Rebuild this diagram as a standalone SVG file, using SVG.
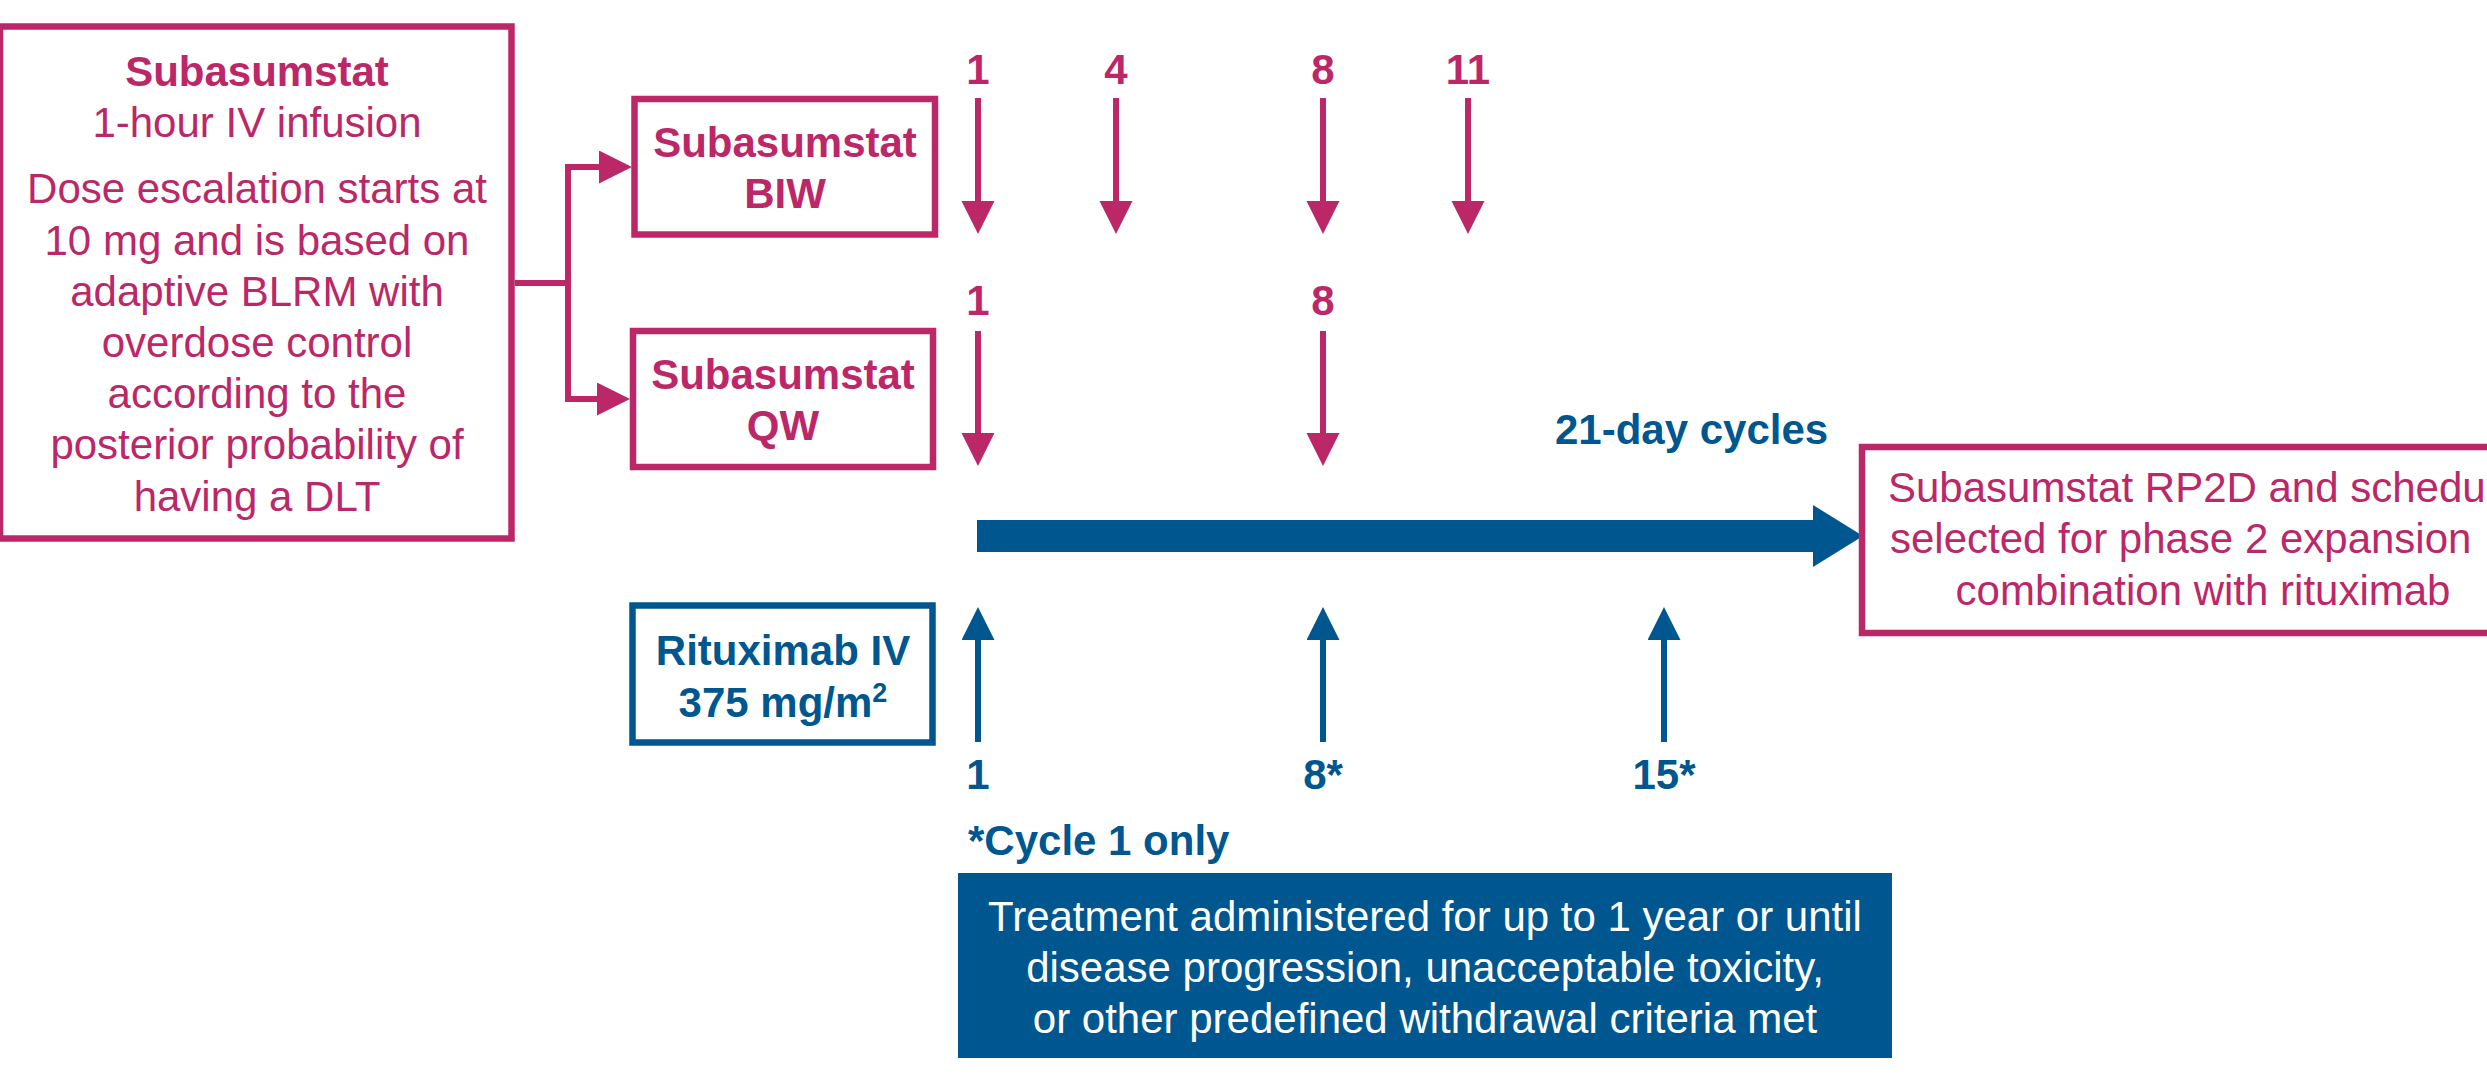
<svg xmlns="http://www.w3.org/2000/svg" width="2487" height="1091" viewBox="0 0 2487 1091">
<style>
text{font-family:"Liberation Sans",Arial,Helvetica,sans-serif;font-size:42px}
.b{font-weight:bold}
.pk{fill:#BC2768}
.bl{fill:#00578F}
.wt{fill:#FFFFFF}
.m{text-anchor:middle}
.boxp{fill:#FFFFFF;stroke:#BC2768;stroke-width:6.5}
.boxb{fill:#FFFFFF;stroke:#00578F;stroke-width:6.5}
.lp{fill:none;stroke:#BC2768;stroke-width:6}
.lb{fill:none;stroke:#00578F;stroke-width:6}
</style>
<defs>
<marker id="ahp" markerUnits="userSpaceOnUse" markerWidth="34" markerHeight="34" refX="1" refY="16.5" orient="auto" viewBox="0 0 34 34">
<path d="M0,0 L33,16.5 L0,33 Z" fill="#BC2768"/>
</marker>
<marker id="ahb" markerUnits="userSpaceOnUse" markerWidth="34" markerHeight="34" refX="1" refY="16.5" orient="auto" viewBox="0 0 34 34">
<path d="M0,0 L33,16.5 L0,33 Z" fill="#00578F"/>
</marker>
</defs>
<rect width="2487" height="1091" fill="#FFFFFF"/>

<g id="connectors">
<path class="lp" d="M515,283 H568"/>
<path class="lp" d="M600,167 H568 V399 H598" marker-end="url(#ahp)" stroke-linejoin="miter"/>
<path class="lp" d="M568,167 H600" marker-end="url(#ahp)"/>
<line class="lp" x1="978" y1="98" x2="978" y2="202" marker-end="url(#ahp)"/>
<line class="lp" x1="1116" y1="98" x2="1116" y2="202" marker-end="url(#ahp)"/>
<line class="lp" x1="1323" y1="98" x2="1323" y2="202" marker-end="url(#ahp)"/>
<line class="lp" x1="1468" y1="98" x2="1468" y2="202" marker-end="url(#ahp)"/>
<line class="lp" x1="978" y1="331" x2="978" y2="434" marker-end="url(#ahp)"/>
<line class="lp" x1="1323" y1="331" x2="1323" y2="434" marker-end="url(#ahp)"/>
<line class="lb" x1="978" y1="742" x2="978" y2="639" marker-end="url(#ahb)"/>
<line class="lb" x1="1323" y1="742" x2="1323" y2="639" marker-end="url(#ahb)"/>
<line class="lb" x1="1664" y1="742" x2="1664" y2="639" marker-end="url(#ahb)"/>
<polygon points="977,520 1813,520 1813,505 1863,536 1813,567 1813,552 977,552" fill="#00578F"/>
</g>

<g id="node-subasumstat">
<rect class="boxp" x="0" y="26.5" width="511.5" height="512"/>
<text class="pk b m" x="257" y="86">Subasumstat</text>
<text class="pk m" x="257" y="137">1-hour IV infusion</text>
<text class="pk m" x="257" y="203">Dose escalation starts at</text>
<text class="pk m" x="257" y="255">10 mg and is based on</text>
<text class="pk m" x="257" y="306">adaptive BLRM with</text>
<text class="pk m" x="257" y="357">overdose control</text>
<text class="pk m" x="257" y="408">according to the</text>
<text class="pk m" x="257" y="459">posterior probability of</text>
<text class="pk m" x="257" y="511">having a DLT</text>
</g>

<g id="node-biw">
<rect class="boxp" x="634.5" y="99" width="300.5" height="135.5"/>
<text class="pk b m" x="785" y="157">Subasumstat</text>
<text class="pk b m" x="785" y="208">BIW</text>
</g>

<g id="node-qw">
<rect class="boxp" x="633" y="331" width="300" height="136"/>
<text class="pk b m" x="783" y="389">Subasumstat</text>
<text class="pk b m" x="783" y="440">QW</text>
</g>

<g id="node-rituximab">
<rect class="boxb" x="632.5" y="605.5" width="300" height="137"/>
<text class="bl b m" x="783" y="665">Rituximab IV</text>
<text class="bl b m" x="783" y="716.5">375 mg/m<tspan font-size="27" dy="-15">2</tspan></text>
</g>

<g id="labels-days">
<text class="pk b m" x="978" y="84">1</text>
<text class="pk b m" x="1116" y="84">4</text>
<text class="pk b m" x="1323" y="84">8</text>
<text class="pk b m" x="1468" y="84">11</text>
<text class="pk b m" x="978" y="315">1</text>
<text class="pk b m" x="1323" y="315">8</text>
<text class="bl b m" x="978" y="789">1</text>
<text class="bl b m" x="1323" y="789">8*</text>
<text class="bl b m" x="1664" y="789">15*</text>
<text class="bl b" x="1555" y="444">21-day cycles</text>
<text class="bl b" x="968" y="855">*Cycle 1 only</text>
</g>

<g id="node-rp2d">
<rect class="boxp" x="1862" y="447" width="682" height="186"/>
<text class="pk" x="1888" y="502">Subasumstat RP2D and schedu</text>
<text class="pk" x="1890" y="553">selected for phase 2 expansion</text>
<text class="pk m" x="2203" y="605">combination with rituximab</text>
</g>

<g id="node-treatment">
<rect x="958" y="873" width="934" height="185" fill="#00578F"/>
<text class="wt m" x="1425" y="931">Treatment administered for up to 1 year or until</text>
<text class="wt m" x="1425" y="982">disease progression, unacceptable toxicity,</text>
<text class="wt m" x="1425" y="1033">or other predefined withdrawal criteria met</text>
</g>
</svg>
